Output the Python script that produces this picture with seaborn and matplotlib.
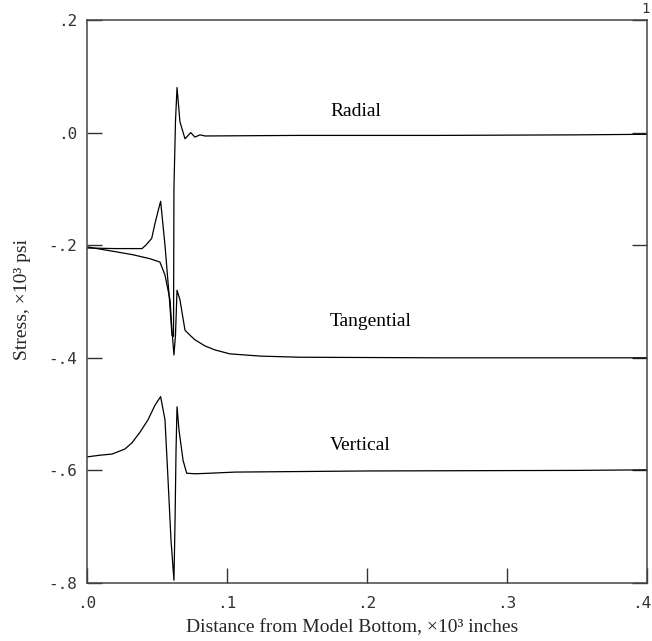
import matplotlib
matplotlib.use("Agg")
import matplotlib.pyplot as plt
import matplotlib.transforms as mtransforms
import numpy as np
import pandas as pd
import seaborn as sns

# Stress profiles along the model (distance in 10^3 in, stress in 10^3 psi)
radial_x = [0.000, 0.020, 0.035, 0.0393, 0.0420, 0.0462, 0.0486, 0.0509, 0.0526,
            0.0557, 0.0590, 0.0607, 0.0618, 0.0621, 0.0632, 0.0643, 0.0664,
            0.0700, 0.0741, 0.0771, 0.0807, 0.0843, 0.150, 0.250, 0.350, 0.400]
radial_y = [-0.205, -0.206, -0.206, -0.206, -0.200, -0.188, -0.161, -0.138, -0.122,
            -0.200, -0.300, -0.360, -0.362, -0.100, 0.020, 0.080, 0.019,
            -0.011, 0.000, -0.008, -0.004, -0.006, -0.005, -0.005, -0.004, -0.003]

tangential_x = [0.000, 0.0214, 0.0329, 0.0450, 0.0521, 0.0557, 0.0593, 0.0607, 0.0621,
                0.0632, 0.0643, 0.0664, 0.0700, 0.0736, 0.0771, 0.0843, 0.0914,
                0.1020, 0.1240, 0.1520, 0.2500, 0.4000]
tangential_y = [-0.203, -0.212, -0.217, -0.224, -0.230, -0.253, -0.297, -0.351, -0.395,
                -0.360, -0.280, -0.297, -0.351, -0.360, -0.368, -0.379, -0.386,
                -0.393, -0.397, -0.399, -0.400, -0.400]

vertical_x = [0.000, 0.0093, 0.0179, 0.0271, 0.0321, 0.0379, 0.0436, 0.0486, 0.0526,
              0.0557, 0.0579, 0.0600, 0.0621, 0.0629, 0.0636, 0.0643, 0.0657,
              0.0686, 0.0712, 0.0771, 0.0879, 0.1057, 0.2000, 0.3500, 0.4000]
vertical_y = [-0.576, -0.573, -0.571, -0.562, -0.551, -0.532, -0.510, -0.484, -0.469,
              -0.510, -0.617, -0.724, -0.795, -0.688, -0.564, -0.487, -0.528,
              -0.582, -0.605, -0.606, -0.605, -0.603, -0.601, -0.600, -0.599]

series_names = ["Radial", "Tangential", "Vertical"]
label_pos_x = [0.1736, 0.1736, 0.1736]
label_pos_y = [0.037, -0.336, -0.555]

x_ticks = [0.0, 0.1, 0.2, 0.3, 0.4]
x_tick_labels = [".0", ".1", ".2", ".3", ".4"]
y_ticks = [0.2, 0.0, -0.2, -0.4, -0.6, -0.8]
y_tick_labels = [".2", ".0", "-.2", "-.4", "-.6", "-.8"]

frames = []
for name, xs, ys in zip(series_names,
                        [radial_x, tangential_x, vertical_x],
                        [radial_y, tangential_y, vertical_y]):
    frames.append(pd.DataFrame({"distance": xs, "stress": ys, "component": name}))
df = pd.concat(frames, ignore_index=True)

sns.set_style("white")
plt.rcParams["font.family"] = ["Liberation Serif", "DejaVu Serif"]

fig = plt.figure(figsize=(6.52, 6.41), dpi=100)
ax = fig.add_axes([87 / 652, 1 - 583 / 641, 560 / 652, 563 / 641])

for name in series_names:
    sub = df[df["component"] == name]
    sns.lineplot(data=sub, x="distance", y="stress", estimator=None, sort=False,
                 color="black", linewidth=0.9, ax=ax, legend=False)

ax.set_xlim(0, 0.4)
ax.set_ylim(-0.8, 0.2)

tick_font = dict(fontfamily="DejaVu Sans Mono", fontsize=11.5, color="#333333")
ax.set_xticks(x_ticks)
ax.set_xticklabels(x_tick_labels, **tick_font)
ax.set_yticks(y_ticks)
ax.set_yticklabels(y_tick_labels, **tick_font)
ax.tick_params(axis="both", direction="in", length=11, width=1.0, color="#333333",
               right=True, top=False, left=True, bottom=True)
ax.tick_params(axis="y", pad=7)
ax.tick_params(axis="x", pad=9)

# keep the last x label just inside the right edge of the figure
last = ax.get_xticklabels()[-1]
last.set_transform(last.get_transform() +
                   mtransforms.ScaledTranslation(-5 / 100, 0, fig.dpi_scale_trans))

for spine in ax.spines.values():
    spine.set_linewidth(1.1)
    spine.set_color("#444444")
    spine.set_visible(True)

for name, lx, ly in zip(series_names, label_pos_x, label_pos_y):
    ax.text(lx, ly, name, fontsize=14, ha="left", va="center", color="black")

ax.set_xlabel("Distance from Model Bottom, ×10³ inches", fontsize=14)
ax.xaxis.set_label_coords((352 - 87) / 560, -0.080)
ax.xaxis.label.set_verticalalignment("center")
ax.set_ylabel("Stress, ×10³ psi", fontsize=14)
ax.yaxis.set_label_coords(-0.115, 0.503)
ax.yaxis.label.set_verticalalignment("center")

fig.text(650 / 652, 1 - 9 / 641, "1", fontfamily="DejaVu Sans Mono", fontsize=10,
         ha="right", va="center", color="#333333")

fig.savefig("out.png", dpi=100, facecolor="white")
